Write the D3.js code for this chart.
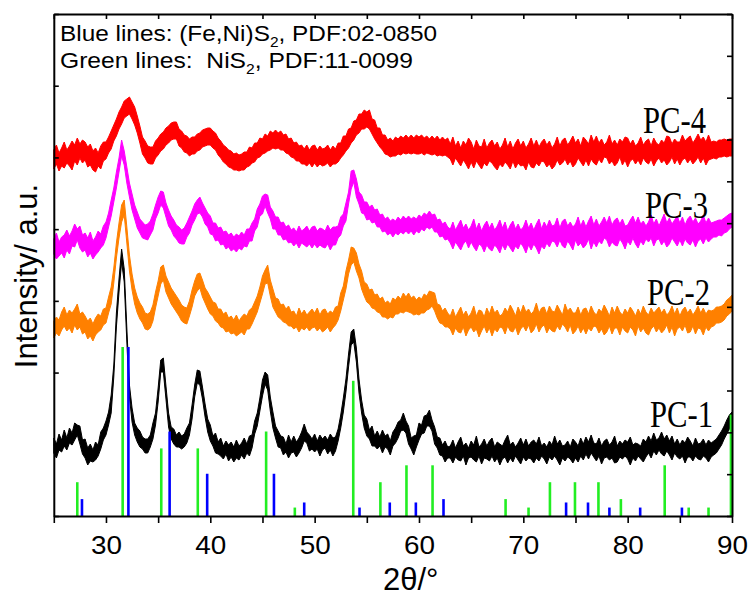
<!DOCTYPE html>
<html><head><meta charset="utf-8">
<script src="https://cdn.jsdelivr.net/npm/d3@7"></script>
<style>body{margin:0;background:#fff}svg{display:block}text{white-space:pre}</style>
</head><body><svg id="c" width="753" height="598"></svg>
<script>
// ---- data: upper / lower edge of each noisy XRD trace, every 0.25 deg from 25 to 90 ----
const twoThetaStart = 25, twoThetaStep = 0.25;
const pc1Hi = [
78,72,82,76, 86,78,88,83, 93,91,90,76, 77,68,72,66, 74,71,84,88,
95,104,121,151, 203,237,267,247, 188,131,108,93, 88,85,79,77, 77,81,93,103,
128,156,158,130, 103,89,87,81, 84,80,82,88, 93,111,131,146, 145,129,112,97,
91,80,83,74, 78,70,75,71, 74,69,76,70, 73,78,72,80, 81,95,103,118,
136,144,141,119, 104,90,85,80, 79,72,81,74, 80,74,78,84, 92,84,81,77,
82,75,81,77, 80,76,82,78, 79,87,101,118, 137,162,184,187, 168,137,116,101,
97,86,90,80, 85,79,86,80, 82,75,84,88, 94,96,103,95, 90,78,80,81,
93,91,100,101, 106,96,89,79, 78,71,75,69,
70,76,68,74, 79,70,73,68, 75,71,80,69, 72,77,70,75, 78,69,74,72,
70,76,81,71, 74,69,73,78, 71,77,70,74, 76,72,79,70, 73,69,75,71,
80,72,76,70, 71,75,69,77, 74,70,78,72, 79,74,81,73, 72,78,70,75,
77,71,74,80, 70,75,72,76, 74,79,71,73, 72,70,77,74, 80,75,83,76,
78,84,77,81, 75,80,72,77, 71,76,73,79, 75,70,78,72, 73,77,71,76,
73,75,77,81, 85,90,96,101,
104];
const pc1Lo = [
63,58,66,64, 70,66,73,71, 76,81,72,62, 58,51,55,54, 56,60,67,76,
81,91,103,139, 189,224,254,234, 174,119,94,81, 74,69,67,63, 63,69,77,91,
114,144,144,117, 89,77,72,69, 69,67,69,73, 81,97,119,133, 131,117,99,84,
75,70,63,62, 60,57,62,55, 59,54,58,56, 61,57,63,60, 68,82,90,105,
120,132,126,105, 88,78,69,68, 61,64,58,63, 64,59,63,68, 75,73,65,67,
64,67,60,66, 68,62,66,60, 65,75,88,104, 124,149,171,174, 154,123,103,88,
80,77,70,70, 67,70,63,69, 67,61,70,73, 78,85,86,83, 72,67,61,69,
76,82,83,90, 90,85,72,68, 61,60,54,58,
58,53,59,56, 55,60,51,58, 59,56,54,60, 52,58,57,55, 60,54,58,51,
57,59,53,58, 54,60,56,52, 59,55,58,57, 53,58,55,60, 57,52,59,56,
60,56,51,58, 55,59,57,53, 58,54,60,56, 62,57,63,59, 55,60,52,58,
59,56,58,53, 54,59,57,60, 57,51,58,55, 60,57,54,59, 63,58,65,61,
66,62,60,65, 61,56,63,59, 57,60,53,59, 59,55,60,57, 56,60,58,54,
59,61,63,67, 71,77,82,87,
91];
const pc2Hi = [
195,199,196,204, 209,201,206,203, 207,212,202,204, 200,195,198,192, 198,202,200,207,
208,219,229,248, 273,293,311,316, 289,261,242,228, 219,213,209,203, 202,204,211,224,
235,249,251,240, 234,228,224,220, 216,211,209,208, 215,226,235,242, 243,236,228,224,
219,214,213,207, 207,202,204,198, 200,196,201,195, 199,202,200,206, 208,214,220,229,
240,246,251,236, 227,218,217,211, 212,207,210,204, 205,200,208,202, 206,201,204,207,
203,208,201,206, 207,202,205,203, 209,210,223,230, 245,256,269,268, 263,252,245,234,
232,226,227,221, 222,217,219,213, 215,212,218,216, 220,217,223,219, 223,218,220,216,
219,217,222,220, 225,224,223,212, 211,205,208,203,
200,207,199,204, 209,201,205,199, 203,210,200,206, 205,199,208,202, 210,203,206,200,
202,208,204,211, 206,200,209,203, 211,204,207,202, 205,213,203,208, 209,202,210,205,
204,211,206,201, 212,205,208,203, 203,209,201,207, 208,202,210,204, 201,207,204,211,
206,200,209,203, 210,204,201,207, 203,209,205,200, 207,202,210,204, 201,208,203,206,
209,203,207,201, 204,210,202,208, 200,206,209,203, 207,201,205,210, 203,208,202,206,
205,206,209,209, 210,212,216,218,
221];
const pc2Lo = [
178,183,180,186, 190,185,188,183, 191,186,189,182, 184,177,180,175, 181,184,186,191,
193,203,212,233, 258,278,294,301, 273,245,226,212, 203,197,193,187, 186,188,195,208,
220,232,236,224, 218,212,208,204, 200,195,193,192, 200,209,220,225, 228,219,213,207,
202,200,195,193, 189,188,184,185, 182,183,180,182, 184,181,187,187, 192,198,204,213,
222,232,233,220, 209,204,199,197, 194,193,190,190, 187,189,184,188, 186,189,185,188,
189,185,188,184, 186,189,184,188, 191,196,205,216, 227,242,251,254, 245,238,227,220,
214,212,208,207, 204,203,199,199, 197,199,198,202, 202,204,203,205, 204,203,201,202,
201,203,203,206, 207,210,205,198, 193,192,189,189,
187,181,188,184, 183,189,180,186, 189,184,187,179, 185,190,183,188, 180,187,184,189,
188,182,190,185, 184,189,181,187, 190,185,191,183, 186,192,184,189, 191,183,188,185,
184,190,186,192, 189,184,191,182, 185,190,183,188, 182,188,185,190, 189,183,187,181,
184,190,182,188, 188,181,189,185, 183,189,186,180, 190,184,188,183, 181,187,190,184,
188,183,186,191, 183,189,180,187, 189,185,191,183, 184,190,182,188, 187,181,189,185,
189,190,193,193, 194,196,200,202,
205];
const pc3Hi = [
277,283,274,279, 281,286,280,285, 292,287,290,281, 283,278,284,275, 279,285,282,290,
294,303,316,328, 344,358,376,365, 349,333,322,311, 304,297,294,291, 292,295,302,311,
319,325,324,313, 306,300,296,291, 289,286,288,293, 299,305,312,316, 319,313,308,303,
300,293,293,288, 289,284,285,281, 283,279,282,280, 284,281,287,287, 293,297,307,312,
320,322,321,309, 305,299,299,293, 294,289,291,286, 288,284,290,285, 287,290,285,289,
290,285,288,287, 285,291,286,289, 289,290,299,302, 313,324,345,346, 337,324,321,314,
314,309,311,306, 307,301,302,297, 299,295,297,295, 299,296,300,297, 300,297,299,297,
301,299,303,301, 305,301,302,296, 297,292,294,289,
287,294,286,291, 296,288,292,286, 290,297,287,293, 285,291,295,288, 293,286,290,296,
288,294,285,291, 295,287,292,286, 289,296,288,293, 286,292,297,287, 294,289,296,290,
291,298,288,295, 297,290,294,289, 292,299,290,296, 289,295,300,291, 297,290,294,299,
293,300,291,296, 298,292,297,290, 291,296,300,293, 299,292,295,290, 294,301,292,297,
290,296,302,293, 298,292,296,300, 293,299,291,297, 300,294,298,292, 295,301,293,298,
293,294,295,296, 296,298,300,302,
303];
const pc3Lo = [
262,257,260,263, 258,266,262,270, 269,276,268,264, 266,259,263,257, 261,264,268,271,
278,289,300,314, 328,344,360,351, 333,319,306,297, 288,283,278,277, 276,281,286,297,
303,311,308,299, 290,286,280,277, 273,272,272,279, 283,291,296,302, 303,299,292,289,
282,281,275,276, 271,272,267,269, 265,267,264,268, 266,270,269,275, 275,285,289,300,
302,310,303,297, 287,287,281,281, 276,277,273,274, 270,273,268,273, 271,269,272,268,
272,268,271,269, 268,272,266,271, 271,278,281,290, 295,312,327,334, 319,312,303,302,
296,297,293,294, 289,289,284,285, 281,283,279,283, 281,284,282,285, 282,285,281,285,
283,287,285,289, 287,289,284,284, 279,280,276,277,
273,267,274,270, 266,272,275,268, 274,269,265,272, 270,264,271,267, 265,271,268,263,
271,266,272,268, 264,270,267,273, 269,263,271,266, 272,268,262,270, 267,273,269,275,
274,269,276,270, 268,275,271,266, 276,270,273,268, 271,277,267,274, 269,275,272,278,
276,269,274,271, 270,277,273,267, 275,271,278,272, 268,275,271,277, 274,278,270,276,
277,271,275,269, 272,278,274,270, 276,270,277,273, 271,276,269,275, 277,272,278,274,
277,279,279,281, 280,283,284,287,
289];
const pc4Hi = [
366,371,363,368, 374,366,370,375, 371,378,372,376, 374,369,372,365, 368,363,370,374,
374,379,385,391, 397,404,409,415, 417,419,414,409, 400,390,379,375, 370,369,369,375,
378,382,384,388, 390,393,394,394, 387,385,381,380, 377,379,379,382, 383,386,387,388,
388,385,383,378, 375,371,369,366, 365,362,363,361, 362,364,364,369, 368,373,373,378,
377,382,380,385, 383,386,383,385, 381,382,377,378, 373,374,370,371, 367,371,366,370,
371,366,370,367, 368,371,366,370, 367,373,373,380, 380,387,388,395, 396,402,402,406,
404,406,397,396, 388,388,381,381, 376,378,375,379, 377,380,378,381, 378,381,378,381,
379,381,378,380, 377,380,377,380, 376,379,376,378,
372,379,370,375, 368,375,371,378, 374,367,376,370, 369,377,368,373, 376,370,374,367,
371,378,369,375, 367,373,377,370, 375,368,372,378, 370,376,369,374, 377,371,375,368,
372,379,370,376, 378,371,375,380, 373,377,370,379, 376,372,381,374, 380,373,377,371,
374,381,372,376, 371,377,374,379, 378,372,376,370, 373,379,371,375, 377,370,378,373,
371,376,373,380, 379,372,377,374, 374,381,375,378, 380,373,377,382, 376,379,374,381,
374,375,374,376, 376,377,376,377,
377];
const pc4Lo = [
347,352,345,350, 348,353,350,346, 355,351,358,353, 356,349,351,346, 344,350,347,355,
357,363,367,375, 380,387,392,398, 400,402,397,391, 383,373,362,358, 353,352,352,358,
361,365,367,371, 373,376,377,377, 370,368,364,363, 360,362,362,365, 366,369,370,371,
371,368,366,361, 358,354,352,349, 348,346,346,345, 346,346,349,350, 353,354,358,359,
362,363,365,366, 368,367,368,366, 366,363,362,359, 358,355,355,352, 352,350,353,349,
353,349,352,350, 351,353,349,352, 352,354,358,361, 365,368,373,376, 381,383,387,387,
389,387,382,377, 373,369,366,362, 361,359,360,360, 362,361,363,362, 363,362,363,362,
362,363,361,363, 362,361,362,360, 361,360,361,359,
357,351,358,354, 350,356,352,347, 354,348,355,351, 347,353,350,355, 353,349,346,352,
349,354,351,347, 355,348,353,350, 351,346,354,349, 348,353,350,355, 354,349,352,347,
350,356,351,353, 357,351,355,349, 352,358,354,350, 356,350,357,353, 351,357,353,359,
358,352,355,350, 353,359,351,356, 349,355,357,352, 356,351,358,354, 352,357,350,355,
358,353,356,351, 354,359,352,357, 351,356,358,353, 357,352,355,359, 353,358,351,356,
357,358,357,359, 359,360,359,360,
360];
const seriesNames = ["PC-1", "PC-2", "PC-3", "PC-4"];
// NiS2 (green) reference lines, PDF 11-0099: 2theta and relative intensity
const greenPos = [27.25,31.6,35.3,38.8,45.35,48.1,53.7,56.3,58.8,61.3,68.3,70.5,72.55,74.95,77.2,79.35,83.55,85.85,87.75,89.9];
const greenInt = [20,100,40,40,50,5,80,20,30,30,10,5,20,20,20,10,30,5,5,60];
// (Fe,Ni)S2 (blue) reference lines, PDF 02-0850
const bluePos = [27.7,32.15,36.1,39.7,46.1,49.0,54.3,57.2,59.7,62.35,74.1,76.2,78.25,81.2,85.2];
const blueInt = [10,100,50,25,25,8,5,8,8,10,8,8,5,5,5];
const xTicks = [25,30,35,40,45,50,55,60,65,70,75,80,85,90];
const xTickLabels = ["","30","","40","","50","","60","","70","","80","","90"];

// ---- styles / layout ----
const seriesColors = ["#000000", "#ff8000", "#ff00ff", "#ff0000"];
const labelPos = [[650,427],[647,305],[645,218],[643,133]];
const green = "#22ee22", blue = "#0000ff";
const sans = "Liberation Sans, Arial, sans-serif";

const svg = d3.select("#c");
const L = 53.8, R = 732, T = 14, B = 516;
const x = d3.scaleLinear().domain([25, 90]).range([L, R]);
const y = d3.scaleLinear().domain([0, 502]).range([B, T]);
const yStick = d3.scaleLinear().domain([0, 100]).range([B, 347]);

const hi = [pc1Hi, pc2Hi, pc3Hi, pc4Hi];
const lo = [pc1Lo, pc2Lo, pc3Lo, pc4Lo];
const tx = i => x(twoThetaStart + i * twoThetaStep);
const plot = svg.append("g");
hi.forEach((h, k) => {
  const area = d3.area().x((d, i) => tx(i)).y0((d, i) => y(lo[k][i])).y1(d => y(d));
  plot.append("path").datum(h).attr("d", area)
    .attr("fill", seriesColors[k]).attr("stroke", seriesColors[k])
    .attr("stroke-width", 1).attr("stroke-linejoin", "miter");
});

// reference sticks
function sticks(pos, ints, color) {
  plot.append("g").selectAll("line").data(pos).join("line")
    .attr("x1", d => x(d)).attr("x2", d => x(d))
    .attr("y1", y(0)).attr("y2", (d, i) => yStick(ints[i]))
    .attr("stroke", color).attr("stroke-width", 2.6);
}
sticks(greenPos, greenInt, green);
sticks(bluePos, blueInt, blue);

// axes
const axStyle = g => {
  g.selectAll("path").attr("stroke", "#000").attr("stroke-width", 2);
  g.selectAll("line").attr("stroke", "#000").attr("stroke-width", 1.6);
};
svg.append("g").attr("transform", `translate(0,${B})`)
  .call(d3.axisBottom(x).tickValues(xTicks).tickFormat((d, i) => xTickLabels[i]).tickSize(7).tickSizeOuter(0).tickPadding(13))
  .call(axStyle)
  .call(g => g.selectAll("text").attr("font-family", sans).attr("font-size", 26).attr("fill", "#000")
    .each(function () { if (this.textContent) d3.select(this).attr("textLength", 31).attr("lengthAdjust", "spacingAndGlyphs"); }));
svg.append("g").attr("transform", `translate(0,${T})`)
  .call(d3.axisTop(x).tickValues(xTicks).tickFormat("").tickSize(-5).tickSizeOuter(0))
  .call(axStyle);
const leftTicks = d3.range(0, 8).map(i => i * 502 / 7);
const rightTicks = d3.range(0, 13).map(i => i * 502 / 12);
svg.append("g").attr("transform", `translate(${L},0)`)
  .call(d3.axisLeft(y).tickValues(leftTicks).tickFormat("").tickSize(-5).tickSizeOuter(0))
  .call(axStyle);
svg.append("g").attr("transform", `translate(${R},0)`)
  .call(d3.axisRight(y).tickValues(rightTicks).tickFormat("").tickSize(-5).tickSizeOuter(0))
  .call(axStyle);

// series labels
seriesNames.forEach((n, k) => {
  svg.append("text").attr("x", labelPos[k][0]).attr("y", labelPos[k][1])
    .attr("font-family", "Liberation Serif, Times New Roman, serif").attr("font-size", 37)
    .attr("textLength", 63).attr("lengthAdjust", "spacingAndGlyphs")
    .attr("fill", "#000").text(n);
});

// legend text
function legendLine(yb, len, pre, post) {
  const t = svg.append("text").attr("x", 60).attr("y", yb).attr("font-family", sans).attr("font-size", 22)
    .attr("fill", "#000").attr("textLength", len).attr("lengthAdjust", "spacingAndGlyphs");
  t.append("tspan").text(pre);
  t.append("tspan").attr("font-size", 14).attr("dy", 6).text("2");
  t.append("tspan").attr("dy", -6).text(post);
}
legendLine(40.5, 377, "Blue lines: (Fe,Ni)S", ", PDF:02-0850");
legendLine(68, 353, "Green lines:  NiS", ", PDF:11-0099");

// axis titles
svg.append("text").attr("x", 383).attr("y", 590).attr("font-family", sans).attr("font-size", 31).attr("fill", "#000").text("2θ/°");
svg.append("text").attr("transform", "translate(37,276) rotate(-90)").attr("text-anchor", "middle")
  .attr("font-family", sans).attr("font-size", 31).attr("fill", "#000").text("Intensity/ a.u.");
</script></body></html>
